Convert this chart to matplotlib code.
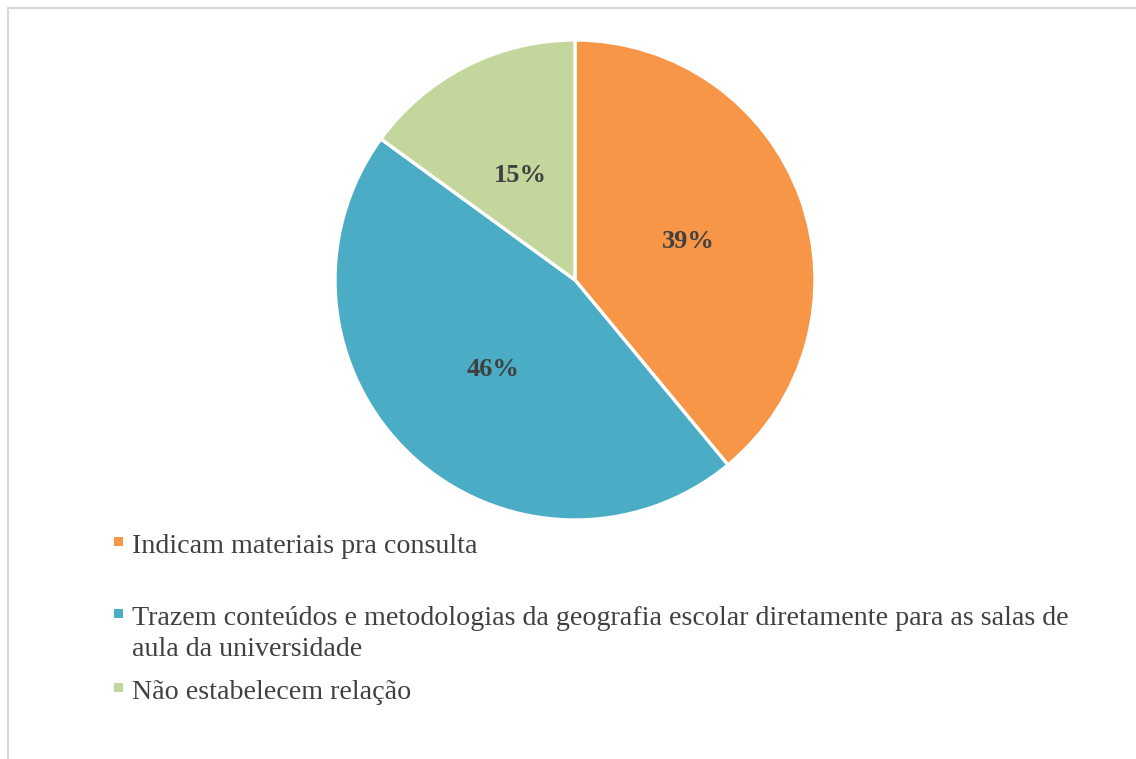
import matplotlib.pyplot as plt
from matplotlib.lines import Line2D
from matplotlib.patches import Rectangle

# answer categories and their shares (%)
labels = ["Indicam materiais pra consulta",
          "Trazem conteúdos e metodologias da geografia escolar diretamente para as salas de\naula da universidade",
          "Não estabelecem relação"]
shares = [39, 46, 15]
colors = ["#F79646", "#4BACC6", "#C3D69B"]

W, H = 1136, 759
fig = plt.figure(figsize=(W / 100, H / 100), dpi=100)
fig.patch.set_facecolor("white")

# pie placed by pixel box: centre (575, 280), radius 240
cx, cy, r = 575, 280, 240
ax = fig.add_axes([(cx - r) / W, (H - cy - r) / H, 2 * r / W, 2 * r / H])
wedges, texts = ax.pie(shares, colors=colors, startangle=90, counterclock=False,
                       labels=[f"{v}%" for v in shares], labeldistance=0.5,
                       wedgeprops=dict(edgecolor="white", linewidth=2.4))
for t in texts:
    t.set_family("Liberation Serif")
    t.set_fontweight("bold")
    t.set_fontsize(19)
    t.set_color("#404040")
    t.set_ha("center")
    t.set_va("center_baseline")
ax.set_xlim(-1, 1)
ax.set_ylim(-1, 1)
ax.set_aspect("equal")
ax.axis("off")

# legend entries below the pie, one text per wrapped line
baselines = [553, 625, 699]
line_gap = 31
for lab, col, yb in zip(labels, colors, baselines):
    fig.patches.append(Rectangle((114 / W, (H - yb + 7) / H), 9 / W, 9 / H,
                                 transform=fig.transFigure, facecolor=col,
                                 edgecolor="none"))
    for i, line in enumerate(lab.split("\n")):
        fig.text(132 / W, (H - yb - i * line_gap) / H, line, family="Liberation Serif",
                 fontsize=20.2, color="#404040", ha="left", va="baseline")

# light frame on the top and left
fig.add_artist(Line2D([8 / W, 1], [1 - 8 / H, 1 - 8 / H], color="#D9D9D9", lw=1.5,
                      transform=fig.transFigure))
fig.add_artist(Line2D([8 / W, 8 / W], [0, 1 - 8 / H], color="#D9D9D9", lw=1.5,
                      transform=fig.transFigure))

fig.savefig("out.png", dpi=100)
